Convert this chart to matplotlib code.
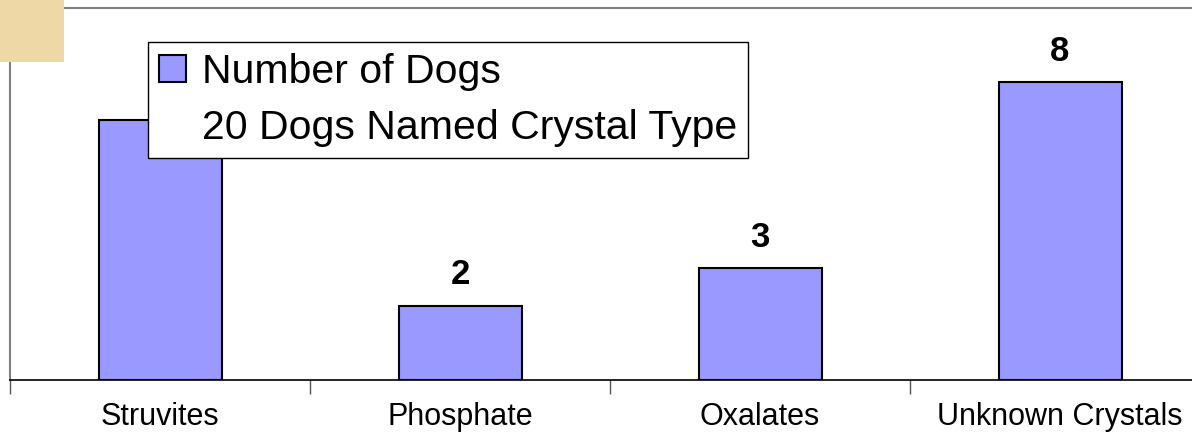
import matplotlib.pyplot as plt
from matplotlib.patches import Rectangle, Patch

plt.rcParams['font.family'] = ['Liberation Sans', 'DejaVu Sans']

categories = ['Struvites', 'Phosphate', 'Oxalates', 'Unknown Crystals']
dogs = [7, 2, 3, 8]
legend_labels = ['Number of Dogs', '20 Dogs Named Crystal Type']

W, H = 1192, 443
fig = plt.figure(figsize=(W / 100, H / 100), dpi=100)

# plot area runs past the right edge of the picture
ax = fig.add_axes([10 / W, 1 - 380 / H, 1200 / W, 372 / H])

x = list(range(len(categories)))
bars = ax.bar(x, dogs, width=0.41, color='#9999FF', edgecolor='black', linewidth=1.5, zorder=2)

for xi, v in zip(x, dogs):
    ax.text(xi, v + 0.38, str(v), ha='center', va='bottom', fontsize=25, fontweight='bold')

ax.set_xlim(-0.5, len(categories) - 0.5)
ax.set_ylim(0, 10)
ax.set_yticks([])
ax.set_xticks([i - 0.5 for i in range(len(categories) + 1)])
ax.set_xticklabels([])
ax.set_xticks(x, minor=True)
ax.set_xticklabels(categories, minor=True, fontsize=22)
ax.tick_params(axis='x', which='major', direction='out', length=10, width=1, color='#555555')
ax.tick_params(axis='x', which='minor', length=0, pad=16)

for s in ['left', 'top', 'right']:
    ax.spines[s].set_color('#808080')
    ax.spines[s].set_linewidth(1.5)
ax.spines['bottom'].set_color('black')
ax.spines['bottom'].set_linewidth(1.2)

handles = [Patch(facecolor='#9999FF', edgecolor='black', linewidth=1.5),
           Patch(facecolor='none', edgecolor='none')]
leg = fig.legend(handles, legend_labels, loc='upper left',
                 bbox_to_anchor=(148 / W, 1 - 42 / H), fontsize=29.5,
                 fancybox=False, framealpha=1, edgecolor='black',
                 handlelength=0.65, handleheight=0.65, handletextpad=0.4,
                 labelspacing=0.44, borderpad=0.27, borderaxespad=0)
leg.get_frame().set_linewidth(1.0)

# tan image patch in the top-left corner
fig.patches.append(Rectangle((0, 1 - 62 / H), 64 / W, 62 / H, transform=fig.transFigure,
                             facecolor='#EED8A6', edgecolor='none', zorder=5))

fig.savefig('out.png', dpi=100)
